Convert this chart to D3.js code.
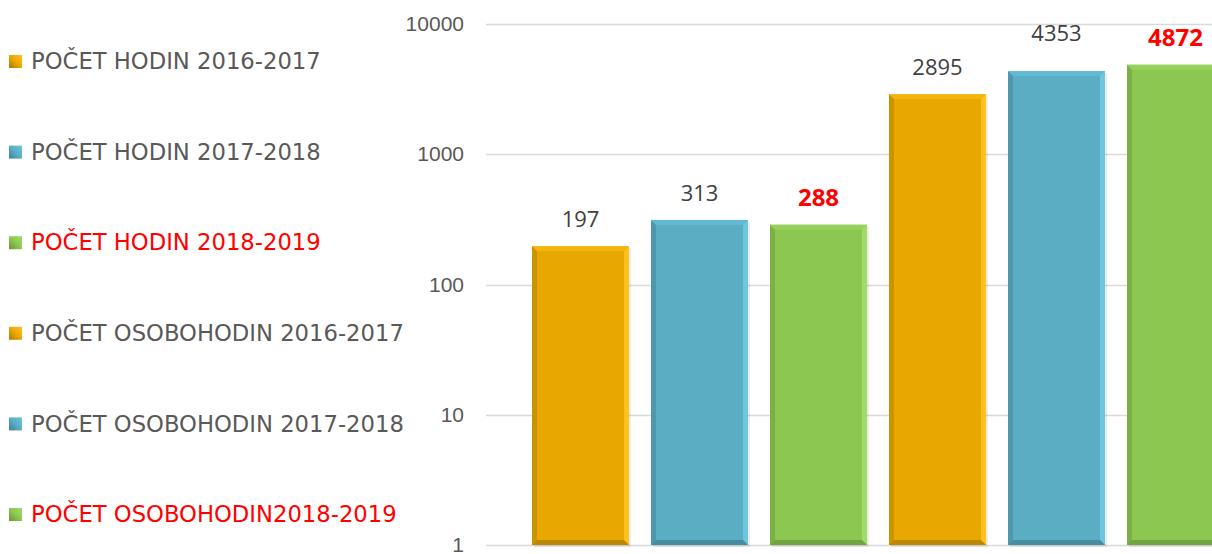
<!DOCTYPE html>
<html>
<head>
<meta charset="utf-8">
<script src="https://cdn.jsdelivr.net/npm/d3@7"></script>
<style>
  body { margin: 0; background: #fff; }
  svg { display: block; }
</style>
</head>
<body>
<div id="chart"></div>
<script>
const labels = ["POČET HODIN 2016-2017", "POČET HODIN 2017-2018", "POČET HODIN 2018-2019",
                "POČET OSOBOHODIN 2016-2017", "POČET OSOBOHODIN 2017-2018", "POČET OSOBOHODIN2018-2019"];
const values = [197, 313, 288, 2895, 4353, 4872];
const seasons = [0, 1, 2, 0, 1, 2];
const highlight = [false, false, true, false, false, true];
const yTicks = [1, 10, 100, 1000, 10000];

const width = 1212, height = 554;

// base, light, dark per season
const palette = [
  { base: "#e9a800", light: "#ffc21a", dark: "#a87a00" },
  { base: "#5badc4", light: "#6cc6de", dark: "#3e7f92" },
  { base: "#8cc751", light: "#a2dc66", dark: "#66953a" }
];

const svg = d3.select("#chart").append("svg")
              .attr("width", width)
              .attr("height", height);

const x = d3.scaleBand(d3.range(values.length), [521, 1235])
            .paddingInner(0.185)
            .paddingOuter(0.0925);
const y = d3.scaleLog([1, 10000], [545, 24]);

// gridlines
svg.append("g")
   .selectAll("line")
   .data(yTicks)
   .join("line")
   .attr("x1", 486)
   .attr("x2", width)
   .attr("y1", d => Math.round(y(d)) + 0.5)
   .attr("y2", d => Math.round(y(d)) + 0.5)
   .attr("stroke", "#d9d9d9")
   .attr("stroke-width", 1.5);

// y axis labels
const yAxis = d3.axisLeft(y).tickValues(yTicks).tickFormat(d3.format("d")).tickSize(0).tickPadding(0);
svg.append("g")
   .attr("transform", "translate(464,0)")
   .call(yAxis)
   .call(g => g.select(".domain").remove())
   .selectAll("text")
   .attr("fill", "#595959")
   .style("font-family", "Liberation Sans, Arial, sans-serif")
   .style("font-size", "21px");

// bars with bevel
const bev = 5;
const bars = svg.append("g")
                .selectAll("g")
                .data(d3.range(values.length))
                .join("g");

bars.append("rect")
    .attr("x", i => x(i) + 2)
    .attr("y", i => y(values[i]) + 2)
    .attr("width", x.bandwidth())
    .attr("height", i => y(1) - y(values[i]))
    .attr("fill", "#000")
    .attr("opacity", 0.08);

bars.append("rect")
    .attr("x", i => x(i))
    .attr("y", i => y(values[i]))
    .attr("width", x.bandwidth())
    .attr("height", i => y(1) - y(values[i]))
    .attr("fill", i => palette[seasons[i]].base);

function face(i, side) {
  const x0 = x(i), x1 = x(i) + x.bandwidth();
  const y0 = y(values[i]), y1 = y(1);
  const pts = {
    top:    [[x0, y0], [x1, y0], [x1 - bev, y0 + bev], [x0 + bev, y0 + bev]],
    bottom: [[x0, y1], [x1, y1], [x1 - bev, y1 - bev], [x0 + bev, y1 - bev]],
    left:   [[x0, y0], [x0 + bev, y0 + bev], [x0 + bev, y1 - bev], [x0, y1]],
    right:  [[x1, y0], [x1 - bev, y0 + bev], [x1 - bev, y1 - bev], [x1, y1]]
  };
  return pts[side].join(" ");
}

bars.append("polygon").attr("points", i => face(i, "left")).attr("fill", i => palette[seasons[i]].dark).attr("opacity", 0.45);
bars.append("polygon").attr("points", i => face(i, "right")).attr("fill", i => palette[seasons[i]].light);
bars.append("polygon").attr("points", i => face(i, "top")).attr("fill", i => palette[seasons[i]].light).attr("opacity", 0.5);
bars.append("polygon").attr("points", i => face(i, "bottom")).attr("fill", i => palette[seasons[i]].dark).attr("opacity", 0.7);

// value labels (the 4353 label sits a bit higher, as in the original)
const labelLift = i => i === 4 ? 30 : 19;
svg.append("g")
   .selectAll("text")
   .data(d3.range(values.length))
   .join("text")
   .attr("x", i => x(i) + x.bandwidth() / 2)
   .attr("y", i => y(values[i]) - labelLift(i))
   .attr("text-anchor", "middle")
   .style("font-family", "Open Sans, sans-serif")
   .style("font-size", i => highlight[i] ? "24px" : "22px")
   .style("font-weight", i => highlight[i] ? "bold" : "normal")
   .attr("fill", i => highlight[i] ? "#ff0000" : "#404040")
   .text(i => values[i]);

// legend
const legendY = d3.scalePoint(d3.range(labels.length), [61, 514]);
const defs = svg.append("defs");
palette.forEach((p, k) => {
  const gr = defs.append("linearGradient")
                 .attr("id", "lg" + k)
                 .attr("x1", 0).attr("y1", 1).attr("x2", 1).attr("y2", 0);
  gr.append("stop").attr("offset", 0).attr("stop-color", p.dark);
  gr.append("stop").attr("offset", 0.5).attr("stop-color", p.base);
  gr.append("stop").attr("offset", 1).attr("stop-color", p.light);
});

const legend = svg.append("g")
                  .selectAll("g")
                  .data(d3.range(labels.length))
                  .join("g")
                  .attr("transform", i => "translate(0," + legendY(i) + ")");

legend.append("rect")
      .attr("x", 9)
      .attr("y", -6)
      .attr("width", 13)
      .attr("height", 13)
      .attr("fill", i => "url(#lg" + seasons[i] + ")");

legend.append("text")
      .attr("x", 31)
      .attr("y", 0)
      .attr("dy", "0.36em")
      .style("font-family", "DejaVu Sans, sans-serif")
      .style("font-size", "22.7px")
      .attr("fill", i => highlight[i] ? "#ff0000" : "#595959")
      .text(i => labels[i]);
</script>
</body>
</html>
